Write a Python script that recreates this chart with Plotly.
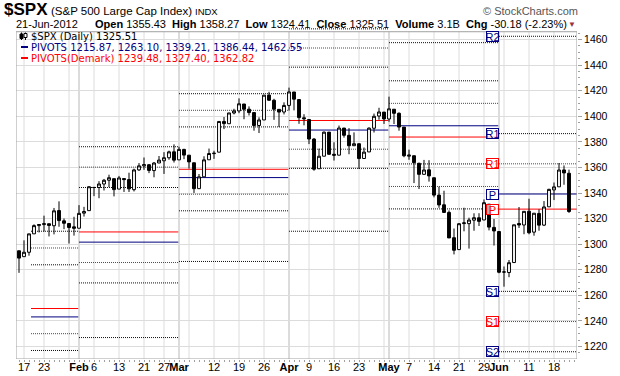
import plotly.graph_objects as go

# ---------------- data ----------------
dates = ["Jan13","Jan17","Jan18","Jan19","Jan20","Jan23","Jan24","Jan25","Jan26","Jan27","Jan30","Jan31",
         "Feb1","Feb2","Feb3","Feb6","Feb7","Feb8","Feb9","Feb10","Feb13","Feb14","Feb15","Feb16","Feb17",
         "Feb21","Feb22","Feb23","Feb24","Feb27","Feb28","Feb29",
         "Mar1","Mar2","Mar5","Mar6","Mar7","Mar8","Mar9","Mar12","Mar13","Mar14","Mar15","Mar16","Mar19",
         "Mar20","Mar21","Mar22","Mar23","Mar26","Mar27","Mar28","Mar29","Mar30",
         "Apr2","Apr3","Apr4","Apr5","Apr9","Apr10","Apr11","Apr12","Apr13","Apr16","Apr17","Apr18","Apr19",
         "Apr20","Apr23","Apr24","Apr25","Apr26","Apr27","Apr30",
         "May1","May2","May3","May4","May7","May8","May9","May10","May11","May14","May15","May16","May17",
         "May18","May21","May22","May23","May24","May25","May29","May30","May31",
         "Jun1","Jun4","Jun5","Jun6","Jun7","Jun8","Jun11","Jun12","Jun13","Jun14","Jun15","Jun18","Jun19",
         "Jun20","Jun21"]
opens = [1294.82,1290.22,1293.65,1308.07,1314.49,1315.29,1315.96,1314.40,1326.28,1318.25,1316.16,1313.53,
         1312.45,1324.24,1326.21,1344.32,1344.33,1347.04,1349.97,1351.21,1343.06,1351.30,1350.52,1342.61,1358.06,
         1361.22,1362.11,1357.53,1363.46,1365.20,1367.56,1372.20,
         1365.90,1374.09,1369.59,1363.63,1343.39,1352.65,1365.97,1370.78,1371.92,1395.95,1394.17,1402.55,1404.17,
         1409.59,1405.52,1402.89,1392.78,1397.11,1416.55,1412.52,1405.39,1403.31,
         1408.47,1418.98,1413.09,1398.79,1397.45,1382.18,1358.98,1368.77,1387.61,1370.27,1369.57,1390.78,1385.08,
         1376.96,1378.53,1366.97,1372.11,1390.64,1400.19,1403.26,
         1397.86,1405.50,1402.32,1391.51,1368.79,1369.16,1363.20,1354.58,1358.11,1351.93,1338.36,1330.78,1324.82,
         1305.05,1295.73,1316.09,1316.02,1318.72,1320.64,1318.90,1331.25,1313.09,
         1309.87,1278.29,1277.82,1285.61,1316.15,1314.99,1325.72,1309.40,1324.02,1314.88,1329.19,1342.42,1344.83,
         1358.04,1355.43]
highs = [1294.82,1303.00,1308.11,1315.49,1315.38,1322.28,1315.96,1328.30,1333.47,1320.06,1316.16,1321.41,
         1330.52,1329.19,1345.34,1344.36,1349.24,1351.00,1354.32,1351.21,1353.35,1351.30,1355.87,1359.02,1363.40,
         1367.76,1362.70,1364.24,1368.92,1371.94,1373.09,1378.04,
         1376.17,1374.53,1369.59,1363.63,1354.85,1368.72,1374.76,1373.04,1396.13,1399.42,1402.63,1405.88,1414.00,
         1409.59,1407.75,1402.89,1399.18,1416.58,1419.15,1413.65,1405.39,1410.89,
         1422.38,1419.00,1413.09,1401.60,1397.45,1383.01,1374.71,1388.13,1387.61,1379.66,1392.76,1390.78,1390.75,
         1387.40,1378.53,1375.57,1391.37,1402.09,1406.64,1403.26,
         1415.32,1405.50,1403.07,1391.51,1373.91,1369.16,1363.73,1365.88,1365.66,1351.93,1344.94,1341.78,1326.36,
         1312.24,1316.39,1328.49,1320.71,1324.14,1324.20,1334.93,1331.25,1319.74,
         1309.87,1282.55,1287.62,1315.13,1329.05,1325.81,1335.52,1324.31,1327.28,1333.68,1343.32,1348.22,1363.46,
         1361.57,1358.27]
lows = [1277.58,1290.22,1290.99,1308.07,1309.17,1309.89,1306.06,1307.65,1313.60,1311.72,1300.49,1306.69,
        1312.45,1321.57,1326.21,1337.52,1335.92,1341.95,1344.63,1337.35,1343.06,1340.83,1340.80,1341.22,1357.24,
        1358.11,1355.53,1352.28,1363.46,1354.92,1365.97,1363.81,
        1365.90,1366.42,1359.13,1340.03,1343.39,1352.65,1365.97,1366.69,1371.92,1389.97,1394.17,1401.47,1402.43,
        1397.68,1400.64,1388.73,1386.87,1397.11,1411.95,1397.20,1391.56,1401.42,
        1404.46,1404.62,1394.09,1392.92,1378.24,1357.38,1358.98,1368.77,1369.85,1365.38,1369.57,1383.29,1370.30,
        1376.96,1358.79,1366.82,1372.11,1387.28,1397.31,1394.00,
        1395.73,1393.92,1388.71,1367.96,1365.97,1347.75,1343.13,1354.58,1348.89,1336.61,1328.41,1324.79,1304.86,
        1291.98,1295.73,1310.04,1296.53,1310.50,1314.23,1318.90,1310.76,1298.90,
        1277.25,1266.74,1274.16,1285.61,1312.68,1307.77,1307.73,1306.62,1310.51,1314.14,1329.19,1334.46,1344.83,
        1346.45,1324.41]
closes = [1289.09,1293.67,1308.04,1314.50,1315.38,1316.00,1314.65,1326.06,1318.43,1316.33,1313.01,1312.41,
          1324.09,1325.54,1344.90,1344.33,1347.05,1349.96,1351.95,1342.64,1351.77,1350.50,1343.23,1358.04,1361.23,
          1362.21,1357.66,1363.46,1365.74,1367.59,1372.18,1365.68,
          1374.09,1369.63,1364.33,1343.36,1352.63,1365.91,1370.87,1371.09,1395.95,1394.28,1402.60,1404.17,1409.75,
          1405.52,1402.89,1392.78,1397.11,1416.51,1412.52,1405.54,1403.28,1408.47,
          1419.04,1413.38,1398.96,1398.08,1382.20,1358.59,1368.71,1387.57,1370.26,1369.57,1390.78,1385.14,1376.92,
          1378.53,1366.94,1371.97,1390.69,1399.98,1403.36,1397.91,
          1405.82,1402.31,1391.57,1369.10,1369.58,1363.72,1354.58,1357.99,1353.39,1338.35,1330.66,1324.80,1304.86,
          1295.22,1315.99,1316.63,1318.86,1320.68,1317.82,1332.42,1313.32,1310.33,
          1278.04,1278.18,1285.50,1315.13,1314.99,1325.66,1308.93,1324.18,1314.88,1329.10,1342.84,1344.78,1357.98,
          1355.69,1325.51]

# x-axis labels (bar index of each labelled day)
tick_pos = [1, 5, 12, 15, 20, 25, 29, 32, 39, 44, 49, 54, 58, 63, 68, 74, 78, 83, 88, 93, 96, 102, 107]
tick_labels = ["17", "23", "<b>Feb</b>", "6", "13", "21", "27", "<b>Mar</b>", "12", "19", "26", "<b>Apr</b>",
               "9", "16", "23", "<b>May</b>", "7", "14", "21", "29", "<b>Jun</b>", "11", "18"]
week_lines = [1, 5, 10, 15, 20, 25, 29, 34, 39, 44, 49, 58, 63, 68, 73, 78, 83, 88, 93, 97, 102, 107]
month_lines = [12, 32, 54, 74, 96]
y_ticks = [1220, 1240, 1260, 1280, 1300, 1320, 1340, 1360, 1380, 1400, 1420, 1440, 1460]

# monthly pivot segments (Jan .. Jun)
seg_start = [2.4, 12, 32, 54, 74, 96]
seg_end = [11.85, 31.85, 53.85, 73.85, 95.85, 111.6]
piv_S2 = [1176.11, 1226.97, 1286.47, 1310.10, 1327.56, 1215.87]
piv_S1 = [1216.86, 1269.69, 1326.08, 1359.28, 1362.73, 1263.10]
piv_P = [1243.11, 1301.58, 1352.06, 1389.22, 1392.56, 1339.21]
piv_R1 = [1283.86, 1344.30, 1391.67, 1438.40, 1427.73, 1386.44]
piv_R2 = [1310.11, 1376.19, 1417.65, 1468.34, 1457.56, 1462.55]
dem_S1 = [1230.00, 1285.64, 1339.07, 1374.25, 1345.10, 1239.48]
dem_P = [1249.68, 1309.55, 1358.55, 1396.70, 1383.76, 1327.40]
dem_R1 = [1297.00, 1360.24, 1404.66, 1453.37, 1410.10, 1362.82]

# ---------------- geometry ----------------
W, H = 620, 376
ML, MR, MT, MB = 16, 43, 27, 17
X_RANGE = [-0.6, 111.6]
Y_RANGE = [1210.2, 1469.8]
Y_TOP_BORDER = 1466.1
NAVY = "#000080"
RED = "#FF0000"
DOT = "1px,1px"
ARIAL = "Liberation Sans, Arial, sans-serif"
VERD = "DejaVu Sans, Verdana, sans-serif"


def px(xp):
    return (xp - ML) / (W - ML - MR)


def py(yp):
    return (H - MB - yp) / (H - MT - MB)


bar_x = list(range(len(dates)))

fig = go.Figure()
fig.add_trace(go.Candlestick(
    x=bar_x, open=opens, high=highs, low=lows, close=closes,
    increasing=dict(line=dict(color="black", width=1), fillcolor="white"),
    decreasing=dict(line=dict(color="black", width=1), fillcolor="black"),
    whiskerwidth=0, showlegend=False, hoverinfo="skip"))

shapes = []
# vertical grid lines
for v in week_lines:
    shapes.append(dict(type="line", xref="x", yref="y", x0=v, x1=v, y0=Y_RANGE[0], y1=Y_TOP_BORDER,
                       line=dict(color="#DCDCDC", width=1), layer="below"))
for v in month_lines:
    shapes.append(dict(type="line", xref="x", yref="y", x0=v, x1=v, y0=Y_RANGE[0], y1=Y_TOP_BORDER,
                       line=dict(color="#B8B8B8", width=1), layer="below"))

# pivot segments
for i in range(len(seg_start)):
    x0, x1 = seg_start[i], seg_end[i]
    for lvl in (piv_S2[i], piv_S1[i], piv_R1[i], piv_R2[i]):
        shapes.append(dict(type="line", xref="x", yref="y", x0=x0, x1=x1, y0=lvl, y1=lvl,
                           line=dict(color=NAVY, width=1, dash=DOT), layer="between"))
    shapes.append(dict(type="line", xref="x", yref="y", x0=x0, x1=x1, y0=piv_P[i], y1=piv_P[i],
                       line=dict(color=NAVY, width=1), layer="between"))
    for lvl in (dem_S1[i], dem_R1[i]):
        shapes.append(dict(type="line", xref="x", yref="y", x0=x0, x1=x1, y0=lvl, y1=lvl,
                           line=dict(color=RED, width=1, dash=DOT), layer="between"))
    shapes.append(dict(type="line", xref="x", yref="y", x0=x0, x1=x1, y0=dem_P[i], y1=dem_P[i],
                       line=dict(color=RED, width=1), layer="between"))

# plot frame
shapes.append(dict(type="rect", xref="x", yref="y", x0=X_RANGE[0], x1=X_RANGE[1],
                   y0=Y_RANGE[0], y1=Y_TOP_BORDER, line=dict(color="#A0A0A0", width=1), layer="above"))

# legend swatches
shapes.append(dict(type="line", xref="paper", yref="paper", x0=px(21), x1=px(28), y0=py(47), y1=py(47),
                   line=dict(color=NAVY, width=2)))
shapes.append(dict(type="line", xref="paper", yref="paper", x0=px(21), x1=px(28), y0=py(58), y1=py(58),
                   line=dict(color=RED, width=2)))
# tiny candle icon
shapes.append(dict(type="line", xref="paper", yref="paper", x0=px(21.5), x1=px(21.5), y0=py(32.5), y1=py(40),
                   line=dict(color="black", width=1)))
shapes.append(dict(type="rect", xref="paper", yref="paper", x0=px(20), x1=px(23), y0=py(34), y1=py(38.5),
                   line=dict(color="black", width=1), fillcolor="black"))
shapes.append(dict(type="line", xref="paper", yref="paper", x0=px(25.5), x1=px(25.5), y0=py(32.5), y1=py(40),
                   line=dict(color="black", width=1)))
shapes.append(dict(type="rect", xref="paper", yref="paper", x0=px(24), x1=px(27), y0=py(33.5), y1=py(37.5),
                   line=dict(color="black", width=1), fillcolor="white"))

ann = []


def text(xp, yp, t, size, color="black", family=ARIAL, anchor="left"):
    ann.append(dict(xref="paper", yref="paper", x=px(xp), y=py(yp), text=t, showarrow=False,
                    xanchor=anchor, yanchor="middle", font=dict(size=size, color=color, family=family)))


# header
text(2, 9.5, "<b>$SPX</b>", 17)
text(49, 11, "(S&P 500 Large Cap Index)", 11.5)
text(193, 11.5, "INDX", 9.5)
text(580, 11, "\u00a9 StockCharts.com", 11, color="#555555", anchor="right")
text(14, 24.5, "21-Jun-2012", 11)
sp = "\u00a0\u00a0"
text(93, 24.5, f"<b>Open</b> {opens[-1]:.2f}{sp}<b>High</b> {highs[-1]:.2f}{sp}<b>Low</b> {lows[-1]:.2f}{sp}"
               f"<b>Close</b> {closes[-1]:.2f}{sp}<b>Volume</b> 3.1B{sp}<b>Chg</b> "
               f"{closes[-1] - closes[-2]:.2f} ({(closes[-1] - closes[-2]) / closes[-2] * 100:.2f}%)", 11)
text(572, 24, "\u25bc", 8, color="#993344", anchor="center")

# legend lines
text(29, 36.5, f"$SPX (Daily) {closes[-1]:.2f}", 10, family=VERD)
text(29, 47.5, "PIVOTS " + ", ".join(f"{v:.2f}" for v in
                                      (piv_S2[-1], piv_S1[-1], piv_P[-1], piv_R1[-1], piv_R2[-1])),
     10, color=NAVY, family=VERD)
text(29, 58.5, "PIVOTS(Demark) " + ", ".join(f"{v:.2f}" for v in (dem_S1[-1], dem_P[-1], dem_R1[-1])),
     10, color=RED, family=VERD)

# level boxes at the current month start
box_x = seg_start[-1] - 0.05
for lab, lvl, col in (("R2", piv_R2[-1], NAVY), ("R1", piv_R1[-1], NAVY), ("P", piv_P[-1], NAVY),
                      ("S1", piv_S1[-1], NAVY), ("S2", piv_S2[-1], NAVY),
                      ("R1", dem_R1[-1], RED), ("P", dem_P[-1], RED), ("S1", dem_S1[-1], RED)):
    ann.append(dict(xref="x", yref="y", x=box_x, y=lvl, text=lab, showarrow=False, xanchor="right",
                    yanchor="middle", width=11, height=9, align="center", borderwidth=1, borderpad=0,
                    bordercolor=col, bgcolor="rgba(255,255,255,0.7)",
                    font=dict(size=11, color=col, family=ARIAL)))

fig.update_layout(
    width=W, height=H, margin=dict(l=ML, r=MR, t=MT, b=MB, autoexpand=False),
    paper_bgcolor="white", plot_bgcolor="white", showlegend=False,
    boxgap=0.18,
    shapes=shapes, annotations=ann,
    xaxis=dict(range=X_RANGE, rangeslider=dict(visible=False), showgrid=False, zeroline=False,
               showline=False, tickmode="array", tickvals=tick_pos, ticktext=tick_labels,
               tickangle=0, automargin=False, ticks="",
               minor=dict(tickmode="linear", tick0=0, dtick=1, ticks="outside", ticklen=2,
                          tickcolor="#A0A0A0", showgrid=False),
               tickfont=dict(family=ARIAL, size=11, color="black"), fixedrange=True),
    yaxis=dict(range=Y_RANGE, side="right", tickmode="array", tickvals=y_ticks, automargin=False,
               ticktext=[str(v) for v in y_ticks], showgrid=True, gridcolor="#DCDCDC", gridwidth=1,
               zeroline=False, showline=False, ticks="outside", ticklen=4, tickcolor="#A0A0A0",
               minor=dict(tickmode="linear", tick0=1200, dtick=5, ticks="outside", ticklen=2,
                          tickcolor="#A0A0A0", showgrid=False),
               tickfont=dict(family=ARIAL, size=10.5, color="black"), fixedrange=True),
)

fig.write_html("out.html", config={"displayModeBar": False},
               post_script="document.body.style.margin='0px';document.body.style.padding='0px';")
